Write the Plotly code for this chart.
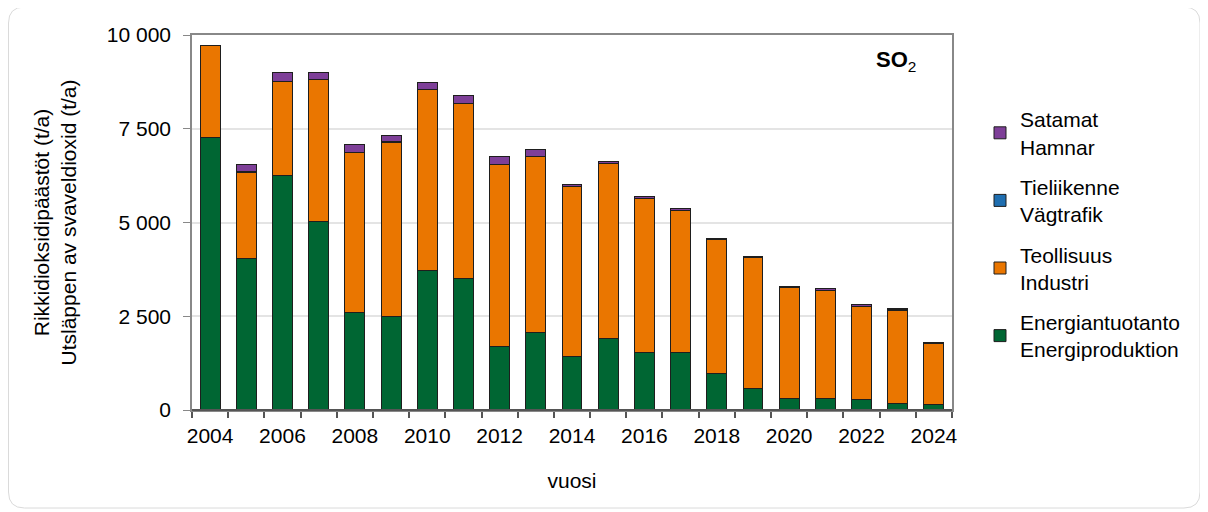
import plotly.graph_objects as go

years = list(range(2004, 2025))
energia = [7270, 4027, 6248, 5040, 2587, 2498, 3707, 3502, 1689, 2062, 1440,
           1911, 1529, 1538, 969, 578, 311, 302, 293, 178, 142]
tieliikenne = [5, 5, 5, 5, 5, 5, 5, 5, 5, 5, 5, 5, 5, 5, 5, 5, 5, 5, 5, 5, 5]
teollisuus = [2455, 2315, 2502, 3773, 4279, 4644, 4829, 4671, 4857, 4688, 4510,
              4662, 4111, 3772, 3577, 3488, 2946, 2893, 2475, 2484, 1621]
satamat = [0, 213, 258, 195, 222, 178, 187, 213, 204, 205, 50,
           50, 40, 60, 30, 30, 30, 30, 30, 40, 30]

series = [
    ("Energiantuotanto<br>Energiproduktion", energia, "#006633"),
    ("Teollisuus<br>Industri", teollisuus, "#EA7600"),
    ("Tieliikenne<br>Vägtrafik", tieliikenne, "#1F6EB0"),
    ("Satamat<br>Hamnar", satamat, "#7E3F98"),
]

ytick_vals = [0, 2500, 5000, 7500, 10000]
ytick_text = ["0", "2 500", "5 000", "7 500", "10 000"]
xtick_vals = list(range(2004, 2025, 2))

fig = go.Figure()
n = len(series)
for i, (name, vals, col) in enumerate(series):
    fig.add_trace(go.Bar(
        x=years, y=vals, name=name, legendgroup=f"g{i}", legendrank=n - i,
        marker=dict(color=col, line=dict(color="#1E1E1E", width=1)),
    ))

# page body has an 8px offset, so the figure is 1200x504
W, H = 1200, 504
L, R, T, B = 184, 944, 27, 402

def px(x):
    return (x - L) / (R - L)

def py(y):
    return (B - y) / (B - T)

# rounded outer frame
x0, x1, y0, y1, r = 0.5, 1192, -1, 500, 16
path = (f"M {px(x0 + r)},{py(y0)} L {px(x1 - r)},{py(y0)} "
        f"Q {px(x1)},{py(y0)} {px(x1)},{py(y0 + r)} "
        f"L {px(x1)},{py(y1 - r)} Q {px(x1)},{py(y1)} {px(x1 - r)},{py(y1)} "
        f"L {px(x0 + r)},{py(y1)} Q {px(x0)},{py(y1)} {px(x0)},{py(y1 - r)} "
        f"L {px(x0)},{py(y0 + r)} Q {px(x0)},{py(y0)} {px(x0 + r)},{py(y0)} Z")

FONT = "Liberation Sans, Arial, sans-serif"
fig.update_layout(
    width=W, height=H,
    margin=dict(l=L, r=W - R, t=T, b=H - B),
    barmode="stack", bargap=0.45,
    paper_bgcolor="white", plot_bgcolor="white",
    font=dict(family=FONT, size=21, color="#000000"),
    showlegend=True,
    legend=dict(
        x=(972 - L) / (R - L), y=py(91), xanchor="left", yanchor="top",
        traceorder="grouped", tracegroupgap=10,
        font=dict(size=21), itemwidth=30,
    ),
    shapes=[dict(type="path", path=path, xref="paper", yref="paper",
                 line=dict(color="#DADADA", width=1), layer="below"),
            dict(type="line", xref="paper", yref="paper", x0=0, x1=1, y0=0, y1=0,
                 line=dict(color="#555555", width=2))],
    annotations=[dict(text="<b>SO</b><sub>2</sub>", x=px(888), y=py(53), xref="paper",
                      yref="paper", showarrow=False, xanchor="center", yanchor="middle",
                      font=dict(size=22))],
)

fig.update_xaxes(
    range=[2003.5, 2024.5], tickmode="array", tickvals=xtick_vals,
    ticktext=[str(v) for v in xtick_vals], ticks="",
    minor=dict(ticks="outside", tick0=2003.5, dtick=1, ticklen=6, tickcolor="#555555",
               tickwidth=1.5, showgrid=False),
    showline=True, linecolor="#888888", linewidth=1.5, mirror=True,
    showgrid=False, tickfont=dict(size=21), ticklabelstandoff=6,
    title=dict(text="vuosi", font=dict(size=21), standoff=27),
)
fig.update_yaxes(
    range=[0, 10000], tickmode="array", tickvals=ytick_vals, ticktext=ytick_text,
    ticks="outside", ticklen=7, tickcolor="#888888",
    showline=True, linecolor="#888888", linewidth=1.5, mirror=True,
    showgrid=True, gridcolor="#E4E4E4", gridwidth=2, tickfont=dict(size=21),
    ticklabelstandoff=8,
    title=dict(text="Rikkidioksidipäästöt (t/a)<br>Utsläppen av svaveldioxid (t/a)",
               font=dict(size=21), standoff=24),
)

fig.write_html("out.html")
